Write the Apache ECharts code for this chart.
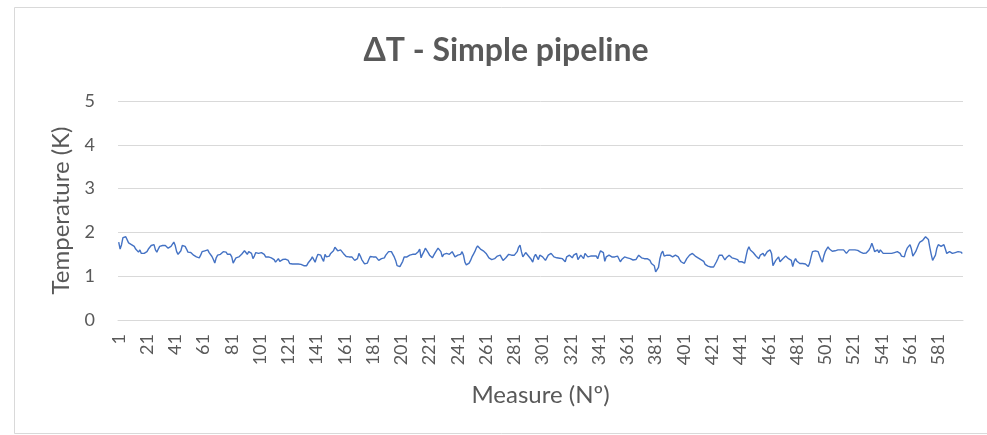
<!DOCTYPE html>
<html>
<head>
<meta charset="utf-8">
<script src="https://cdn.jsdelivr.net/npm/echarts@6/dist/echarts.min.js"></script>
<style>html,body{margin:0;padding:0;background:#fff;}#chart{width:987px;height:435px;}</style>
</head>
<body>
<div id="chart"></div>
<script>
const titleText = 'ΔT - Simple pipeline';
const xName = 'Measure (Nº)';
const yName = 'Temperature (K)';
const yTicks = [0, 1, 2, 3, 4, 5];

const seg1 = [1.78,1.62,1.72,1.88,1.90,1.90,1.88,1.76,1.80,1.72,1.74,1.68,1.62,1.58,1.55,1.60,1.52,1.54,1.52,1.53,
1.56,1.62,1.66,1.70,1.68,1.72,1.60,1.55,1.62,1.68,1.70,1.70,1.68,1.70,1.72,1.64,1.62,1.68,1.72,1.78,
1.70,1.56,1.50,1.52,1.58,1.70,1.72,1.68,1.62,1.55,1.52,1.54,1.50,1.48,1.46,1.44,1.40,1.42,1.48,1.56,
1.54,1.58,1.56,1.60,1.54,1.52,1.45,1.38,1.30,1.42,1.48,1.52,1.50,1.54,1.56,1.60,1.55,1.50,1.48,1.50,
1.44,1.30,1.36,1.42,1.42,1.44,1.48,1.50,1.52,1.58,1.55,1.50,1.56,1.60,1.52,1.40,1.46,1.54,1.57,1.52];
const seg2 = [1.48,1.54,1.57,1.50,1.44,1.42,1.44,1.44,1.42,1.40,1.38,1.32,1.30,1.40,1.34,1.32,1.38,1.40,1.39,1.38,
1.36,1.29,1.28,1.28,1.28,1.28,1.27,1.28,1.27,1.27,1.27,1.24,1.21,1.24,1.30,1.34,1.38,1.44,1.40,1.32,
1.42,1.50,1.50,1.48,1.40,1.34,1.50,1.44,1.40,1.46,1.52,1.48,1.58,1.66,1.62,1.58,1.56,1.60,1.56,1.52,
1.48,1.45,1.42,1.44,1.42,1.44,1.40,1.36,1.32,1.40,1.52,1.46,1.38,1.36,1.28,1.24,1.30,1.38,1.45,1.44,
1.44,1.45,1.44,1.40,1.36,1.38,1.40,1.44,1.42,1.48,1.52,1.56,1.52,1.56,1.50,1.44,1.36,1.24,1.22,1.22];
const seg3 = [1.24,1.34,1.44,1.46,1.44,1.46,1.48,1.44,1.50,1.54,1.50,1.48,1.56,1.62,1.42,1.50,1.56,1.64,1.60,1.54,
1.48,1.45,1.42,1.48,1.54,1.58,1.64,1.66,1.56,1.44,1.50,1.54,1.52,1.48,1.50,1.52,1.56,1.54,1.44,1.42,
1.48,1.52,1.50,1.56,1.48,1.32,1.26,1.24,1.30,1.36,1.44,1.50,1.56,1.64,1.69,1.66,1.62,1.60,1.58,1.56,
1.52,1.48,1.42,1.40,1.38,1.36,1.40,1.44,1.46,1.50,1.48,1.42,1.36,1.40,1.42,1.44,1.50,1.54,1.48,1.44,
1.48,1.46,1.56,1.66,1.71,1.56,1.44,1.48,1.54,1.52,1.46,1.44,1.38,1.32,1.44,1.50,1.46,1.38,1.48,1.52];
const seg4 = [1.44,1.40,1.36,1.34,1.48,1.52,1.52,1.50,1.44,1.40,1.42,1.40,1.41,1.40,1.40,1.36,1.33,1.44,1.47,1.48,
1.44,1.42,1.48,1.46,1.52,1.38,1.40,1.48,1.44,1.40,1.52,1.48,1.44,1.44,1.46,1.44,1.46,1.48,1.46,1.40,
1.50,1.58,1.60,1.54,1.34,1.44,1.48,1.48,1.48,1.44,1.40,1.44,1.48,1.46,1.42,1.33,1.38,1.40,1.44,1.44,
1.42,1.42,1.40,1.38,1.37,1.37,1.38,1.42,1.48,1.44,1.42,1.40,1.40,1.40,1.40,1.38,1.36,1.29,1.33,1.24,
1.10,1.14,1.20,1.40,1.52,1.57,1.46,1.48,1.48,1.48,1.48,1.46,1.44,1.46,1.48,1.48,1.44,1.38,1.33,1.31];
const seg5 = [1.29,1.34,1.40,1.44,1.48,1.50,1.52,1.50,1.46,1.44,1.42,1.40,1.38,1.37,1.34,1.27,1.25,1.23,1.21,1.21,
1.21,1.21,1.22,1.33,1.40,1.48,1.48,1.48,1.44,1.37,1.42,1.44,1.48,1.46,1.42,1.40,1.40,1.40,1.38,1.33,
1.33,1.33,1.33,1.30,1.46,1.60,1.67,1.60,1.56,1.54,1.52,1.46,1.44,1.40,1.48,1.50,1.52,1.46,1.44,1.56,
1.60,1.60,1.52,1.24,1.26,1.36,1.38,1.44,1.33,1.36,1.40,1.42,1.46,1.48,1.40,1.44,1.36,1.22,1.34,1.40,
1.34,1.30,1.29,1.29,1.29,1.29,1.28,1.26,1.22,1.30,1.44,1.56,1.60,1.58,1.60,1.56,1.52,1.38,1.32,1.46];
const seg6 = [1.56,1.62,1.67,1.62,1.58,1.57,1.56,1.58,1.60,1.60,1.60,1.60,1.60,1.60,1.56,1.52,1.56,1.60,1.60,1.60,
1.60,1.60,1.60,1.59,1.56,1.55,1.54,1.52,1.52,1.53,1.56,1.60,1.66,1.75,1.66,1.56,1.58,1.60,1.54,1.60,
1.56,1.52,1.52,1.52,1.52,1.52,1.52,1.52,1.52,1.54,1.56,1.56,1.54,1.52,1.46,1.42,1.44,1.56,1.64,1.68,
1.72,1.62,1.46,1.44,1.56,1.64,1.72,1.78,1.80,1.82,1.86,1.90,1.88,1.84,1.66,1.50,1.36,1.32,1.48,1.64,
1.72,1.74,1.68,1.72,1.72,1.62,1.52,1.54,1.56,1.54,1.52,1.52,1.54,1.56,1.56,1.58,1.55,1.52];

const values = [].concat(seg1, seg2, seg3, seg4, seg5, seg6);
const categories = values.map((v, i) => String(i + 1));

const grey = '#595959';
const fam = 'Lato, "Open Sans", sans-serif';
const chart = echarts.init(document.getElementById('chart'), null, {renderer: 'canvas'});
chart.setOption({
  animation: false,
  backgroundColor: '#ffffff',
  graphic: [{
    type: 'rect', silent: true, z: -1,
    shape: {x: 14.5, y: 7.5, width: 1000, height: 426},
    style: {fill: 'none', stroke: '#d9d9d9', lineWidth: 1}
  }],
  title: {
    text: titleText, left: 501, textAlign: 'center', top: 30,
    textStyle: {fontFamily: fam, fontSize: 32, fontWeight: 'bold', color: grey}
  },
  grid: {left: 118, right: 24, top: 101, bottom: 115, containLabel: false},
  xAxis: {
    type: 'category', data: categories, boundaryGap: true,
    name: xName, nameLocation: 'middle', nameGap: 63,
    nameTextStyle: {fontFamily: fam, fontSize: 24, color: grey},
    axisLine: {show: true, lineStyle: {color: '#d9d9d9', width: 1}},
    axisTick: {show: false},
    axisLabel: {interval: 19, rotate: 90, margin: 14, fontFamily: fam, fontSize: 18, color: grey},
    splitLine: {show: false}
  },
  yAxis: {
    type: 'value', min: yTicks[0], max: yTicks[yTicks.length - 1], interval: 1,
    name: yName, nameLocation: 'middle', nameGap: 43, nameRotate: 90,
    nameTextStyle: {fontFamily: fam, fontSize: 24, color: grey},
    axisLine: {show: false}, axisTick: {show: false},
    axisLabel: {margin: 23, fontFamily: fam, fontSize: 18, color: grey},
    splitLine: {lineStyle: {color: '#d9d9d9', width: 1}}
  },
  series: [{
    type: 'line', data: values, showSymbol: false, symbol: 'none',
    lineStyle: {color: '#4472C4', width: 1.4}, itemStyle: {color: '#4472C4'}
  }]
});
</script>
</body>
</html>
